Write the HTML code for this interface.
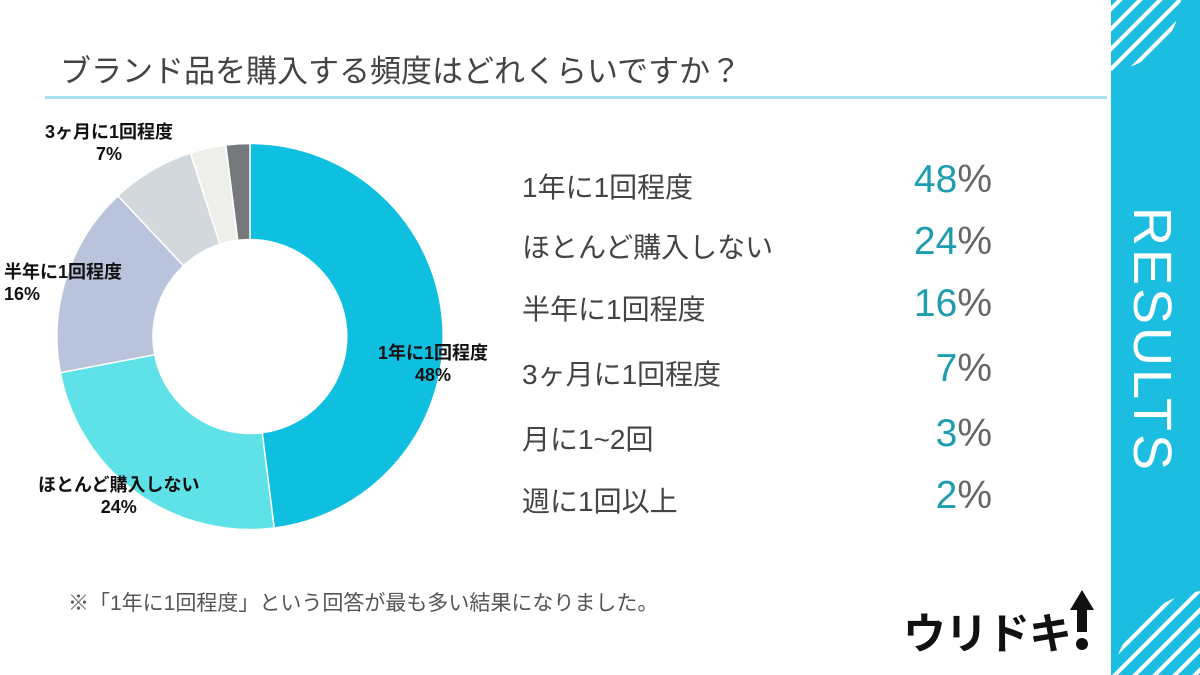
<!DOCTYPE html>
<html><head><meta charset="utf-8"><style>
html,body{margin:0;width:1200px;height:675px;overflow:hidden}
body{background:#fff;position:relative;font-family:"Liberation Sans","Noto Sans CJK JP",sans-serif;color:#333}
.a{position:absolute;white-space:nowrap}
.lab{font-size:28px;color:#444;left:522px}
.pct{font-size:39px;color:#1f9db0;right:208px;text-align:right}
.pct span{color:#666}
.dl{font-size:18px;font-weight:bold;color:#111;text-align:center;line-height:22px}
</style></head><body>
<div class="a" style="left:60px;top:46px;font-size:31px;color:#444">ブランド品を購入する頻度はどれくらいですか？</div>
<div class="a" style="left:45px;top:96px;width:1062px;height:3px;background:#a8e2ee"></div>
<svg class="a" style="left:0;top:0" width="1200" height="675">
<g stroke="#fff" stroke-width="1.5">
<path d="M250,143.5 A193,193 0 0 1 274.2,528 L262.2,432.7 A97,97 0 0 0 250,239.5Z" fill="#0fbfe0"/>
<path d="M274.2,528 A193,193 0 0 1 60.4,372.7 L154.7,354.7 A97,97 0 0 0 262.2,432.7Z" fill="#5fe1e8"/>
<path d="M60.4,372.7 A193,193 0 0 1 117.9,195.8 L183.6,265.8 A97,97 0 0 0 154.7,354.7Z" fill="#b9c4dc"/>
<path d="M117.9,195.8 A193,193 0 0 1 190.4,153 L220,244.2 A97,97 0 0 0 183.6,265.8Z" fill="#d2d8dc"/>
<path d="M190.4,153 A193,193 0 0 1 225.8,145 L237.8,240.3 A97,97 0 0 0 220,244.2Z" fill="#eeeeea"/>
<path d="M225.8,145 A193,193 0 0 1 250,143.5 L250,239.5 A97,97 0 0 0 237.8,240.3Z" fill="#76797c"/>
</g>
<rect x="1107" y="0" width="93" height="675" fill="#1bbde0"/>
<clipPath id="c1"><circle cx="1105" cy="-5" r="76"/></clipPath>
<clipPath id="c2"><circle cx="1215" cy="695" r="105"/></clipPath>
<g clip-path="url(#c1)" stroke="#fff" stroke-width="4">
<path d="M1100,20 L1130,-10 M1100,40 L1150,-10 M1100,60 L1170,-10 M1100,80 L1190,-10 M1100,100 L1210,-10 M1100,120 L1230,-10"/></g>
<g clip-path="url(#c2)" stroke="#fff" stroke-width="4">
<path d="M1100,690 L1220,570 M1100,710 L1240,570 M1110,720 L1260,570 M1130,720 L1280,570 M1150,720 L1300,570 M1170,720 L1320,570 M1190,720 L1340,570 M1100,670 L1200,570"/></g>
<rect x="1107" y="0" width="4" height="675" fill="#fff"/>
<g fill="#111"><path d="M1082,590 L1094,610 L1087,610 L1087,632 L1077,632 L1077,610 L1070,610Z"/><circle cx="1082" cy="644" r="6"/></g>
</svg>
<div class="a" style="left:903px;top:600px;font-size:43px;font-weight:bold;color:#111;letter-spacing:-1px">ウリドキ</div>
<div class="a" style="left:1152px;top:340px;transform:translate(-50%,-50%) rotate(90deg);font-size:54px;color:#fff;letter-spacing:3px">RESULTS</div>
<div class="a dl" style="left:45px;top:121px">3ヶ月に1回程度<br>7%</div>
<div class="a dl" style="left:4px;top:261px;text-align:left">半年に1回程度<br>16%</div>
<div class="a dl" style="left:378px;top:342px">1年に1回程度<br>48%</div>
<div class="a dl" style="left:38px;top:474px">ほとんど購入しない<br>24%</div>
<div class="a lab" style="top:166px">1年に1回程度</div><div class="a pct" style="top:158px">48<span>%</span></div>
<div class="a lab" style="top:226px">ほとんど購入しない</div><div class="a pct" style="top:220px">24<span>%</span></div>
<div class="a lab" style="top:288px">半年に1回程度</div><div class="a pct" style="top:282px">16<span>%</span></div>
<div class="a lab" style="top:353px">3ヶ月に1回程度</div><div class="a pct" style="top:347px">7<span>%</span></div>
<div class="a lab" style="top:418px">月に1~2回</div><div class="a pct" style="top:412px">3<span>%</span></div>
<div class="a lab" style="top:480px">週に1回以上</div><div class="a pct" style="top:474px">2<span>%</span></div>
<div class="a" style="left:68px;top:587px;font-size:21px;color:#555">※「1年に1回程度」という回答が最も多い結果になりました。</div>
</body></html>
